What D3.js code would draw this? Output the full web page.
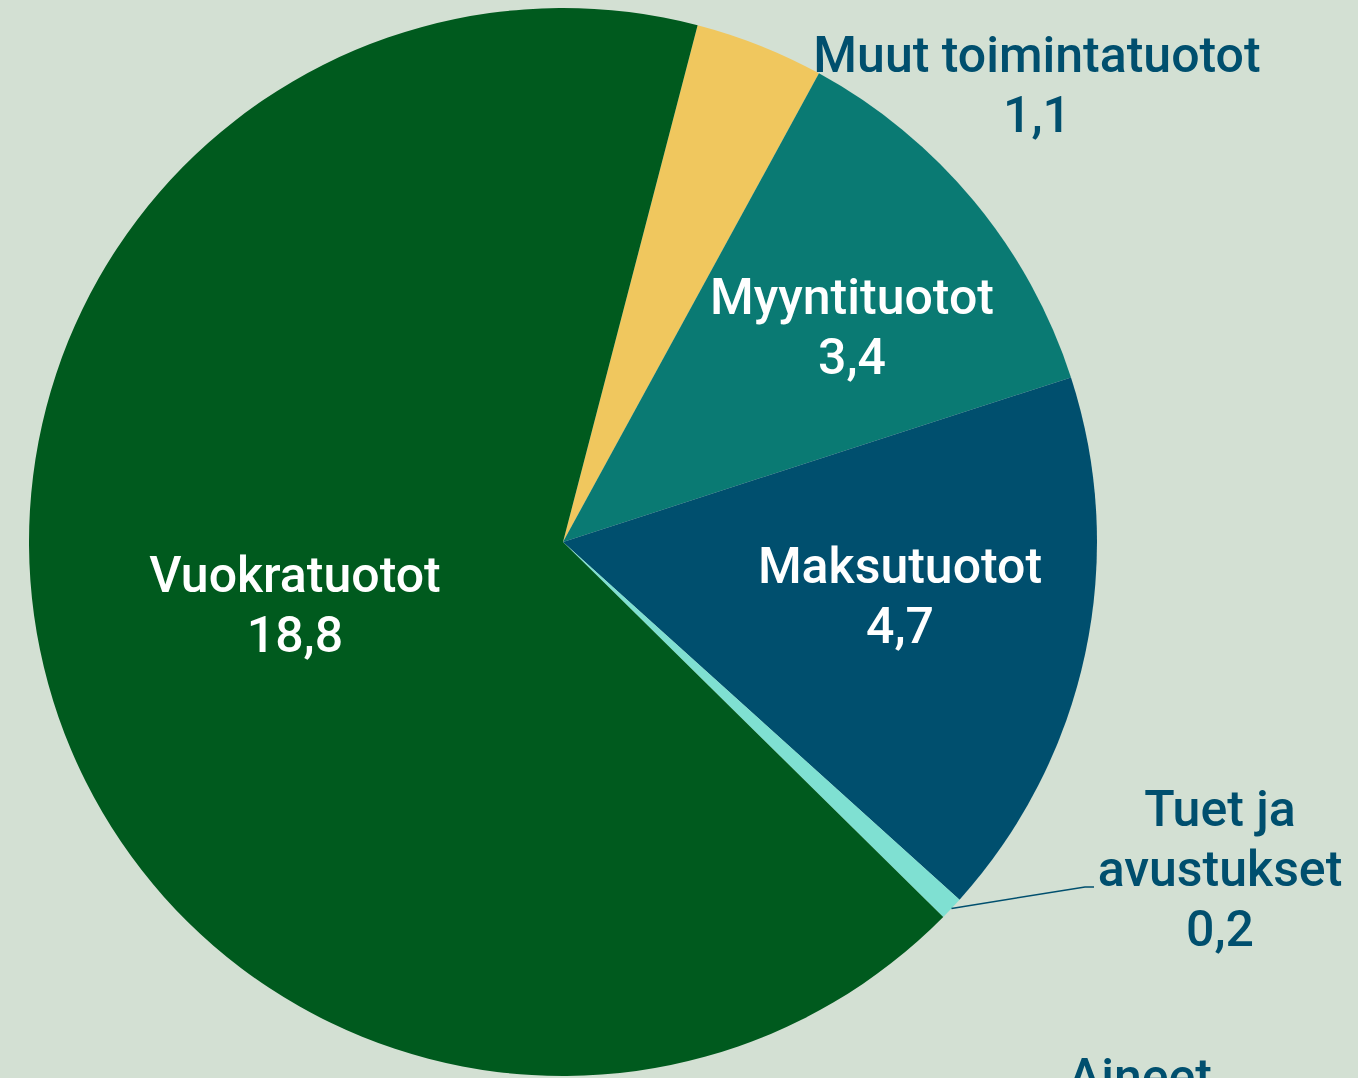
<!DOCTYPE html>
<html><head><meta charset="utf-8">
<script src="https://cdn.jsdelivr.net/npm/d3@7"></script>
<style>html,body{margin:0;padding:0;background:#d3e0d3;overflow:hidden}</style>
</head><body>
<svg id="c" width="1358" height="1078"></svg>
<script>
const categories = ["Muut toimintatuotot","Myyntituotot","Maksutuotot","Tuet ja avustukset","Aineet","Vuokratuotot"];
const values = [1.1, 3.4, 4.7, 0.2, 0.0, 18.8];
const valueLabels = ["1,1","3,4","4,7","0,2","","18,8"];
const colors = ["#f0c75e","#0a7a73","#004f6e","#7fe0d2","#7fe0d2","#005a1e"];

const W=1358,H=1078, cx=563, cy=542, R=534;
const svg=d3.select("#c");
svg.append("rect").attr("width",W).attr("height",H).attr("fill","#d3e0d3");
const g=svg.append("g").attr("transform",`translate(${cx},${cy})`);
const start=14.6*Math.PI/180;
const pie=d3.pie().sort(null).value(d=>d).startAngle(start).endAngle(start+2*Math.PI);
const arcs=pie(values);
const arc=d3.arc().innerRadius(0).outerRadius(R);
g.selectAll("path").data(arcs).join("path").attr("d",arc).attr("fill",(d,i)=>colors[i]);

const font="Roboto, 'Liberation Sans', sans-serif";
const inside="#ffffff", outside="#004f6e";
function label(x,y,lines,color){
  const t=svg.append("text").attr("x",x).attr("y",y).attr("text-anchor","middle")
    .attr("font-family",font).attr("font-size",50).attr("font-weight",500).attr("fill",color);
  lines.forEach((l,i)=>t.append("tspan").attr("x",x).attr("dy",i?60:0).text(l));
}
label(295,592,[categories[5],valueLabels[5]],inside);
label(852,314,[categories[1],valueLabels[1]],inside);
label(900,583,[categories[2],valueLabels[2]],inside);
label(1037,72,[categories[0],valueLabels[0]],outside);
label(1220,826,["Tuet ja","avustukset",valueLabels[3]],outside);
label(1140,1094,[categories[4]],outside);
// leader line for Tuet
const a3=(arcs[3].startAngle+arcs[3].endAngle)/2;
const lp=[cx+Math.sin(a3)*R, cy-Math.cos(a3)*R];
svg.append("path").attr("d",`M${lp[0]},${lp[1]}L1085,887L1094,887`).attr("fill","none").attr("stroke","#004f6e").attr("stroke-width",1.5);
</script>
</body></html>
